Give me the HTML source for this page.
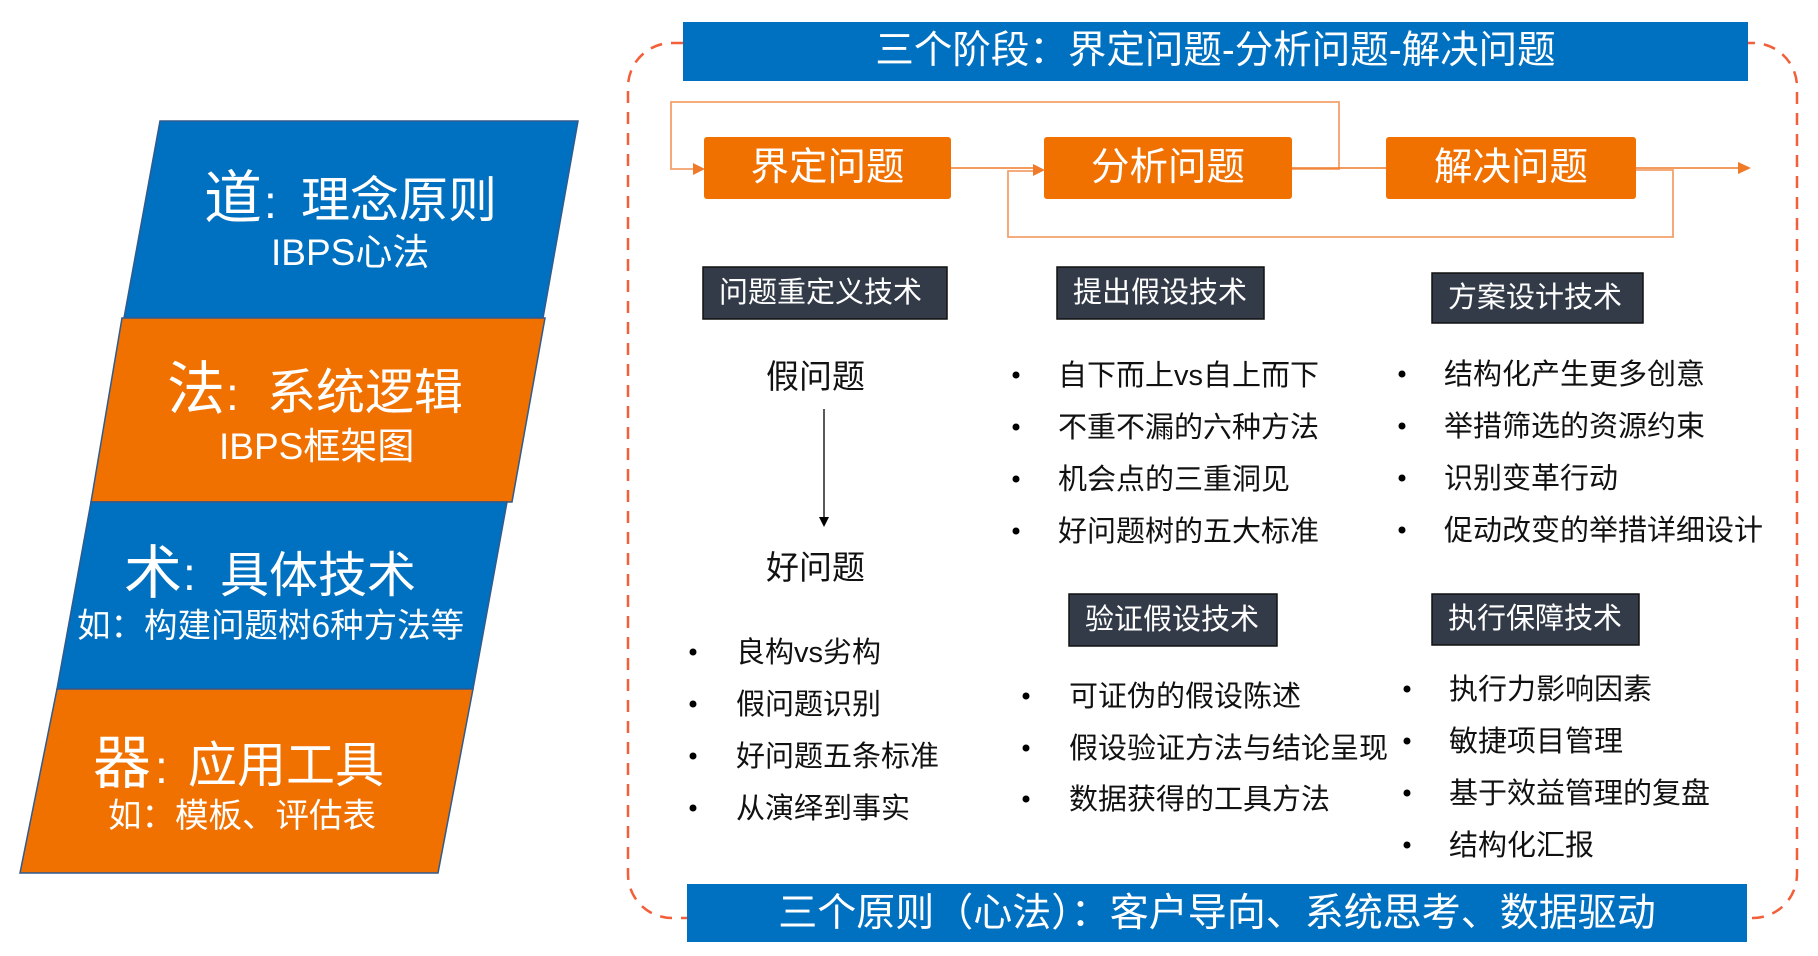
<!DOCTYPE html>
<html><head><meta charset="utf-8">
<style>
html,body{margin:0;padding:0;background:#fff;}
body{width:1818px;height:956px;position:relative;overflow:hidden;font-family:"Liberation Sans","Noto Sans CJK SC",sans-serif;}
.t{position:absolute;white-space:nowrap;line-height:1;}
.w{color:#fff;}
.k{color:#111;font-size:29px;}
.c{position:absolute;display:flex;align-items:center;justify-content:center;color:#fff;white-space:nowrap;line-height:1;}
.lab{position:absolute;display:flex;align-items:center;color:#fff;font-size:29px;line-height:1;white-space:nowrap;padding-left:16px;box-sizing:border-box;}
svg{position:absolute;left:0;top:0;}
</style></head><body>
<svg width="1818" height="956" viewBox="0 0 1818 956">
  <polygon points="160,121 578,121 543,318 124,318" fill="#0070c0" stroke="#2f5b8f" stroke-width="1.5"/>
  <polygon points="122,318 545,318 512,502 91,502" fill="#f07000" stroke="#2f5b8f" stroke-width="1.5"/>
  <polygon points="91,502 507,502 473,689 57,689" fill="#0070c0" stroke="#2f5b8f" stroke-width="1.5"/>
  <polygon points="57,689 473,689 438,873 20,873" fill="#f07000" stroke="#2f5b8f" stroke-width="1.5"/>

  <rect x="628" y="43" width="1169" height="875" rx="44" ry="44" fill="none" stroke="#f25f38" stroke-width="2.5" stroke-dasharray="12 9"/>

  <rect x="683" y="22" width="1065" height="59" fill="#0070c0"/>
  <rect x="687" y="884" width="1060" height="58" fill="#0070c0"/>

  <polyline points="1292,169 1339,169 1339,102 671,102 671,169 694,169" fill="none" stroke="#f4a06a" stroke-width="1.8"/>
  <polyline points="1636,170 1673,170 1673,237 1008,237 1008,171 1034,171" fill="none" stroke="#f4a06a" stroke-width="1.8"/>
  <line x1="951" y1="168" x2="1034" y2="168" stroke="#ee7a2a" stroke-width="1.6"/>
  <line x1="1292" y1="168" x2="1386" y2="168" stroke="#ee7a2a" stroke-width="1.6"/>
  <line x1="1636" y1="168" x2="1739" y2="168" stroke="#ee7a2a" stroke-width="1.6"/>
  <polygon points="693,163 705,169 693,175" fill="#ee7a2a"/>
  <polygon points="1033,164 1045,170 1033,176" fill="#ee7a2a"/>
  <polygon points="1738,162 1751,168 1738,174" fill="#ee7a2a"/>

  <rect x="704" y="137" width="247" height="62" rx="3" fill="#f07000"/>
  <rect x="1044" y="137" width="248" height="62" rx="3" fill="#f07000"/>
  <rect x="1386" y="137" width="250" height="62" rx="3" fill="#f07000"/>

  <rect x="703" y="267" width="244" height="52" fill="#333b48" stroke="#111" stroke-width="1.5"/>
  <rect x="1057" y="267" width="207" height="52" fill="#333b48" stroke="#111" stroke-width="1.5"/>
  <rect x="1432" y="273" width="211" height="50" fill="#333b48" stroke="#111" stroke-width="1.5"/>
  <rect x="1069" y="594" width="208" height="52" fill="#333b48" stroke="#111" stroke-width="1.5"/>
  <rect x="1432" y="594" width="207" height="51" fill="#333b48" stroke="#111" stroke-width="1.5"/>

  <line x1="824" y1="409" x2="824" y2="518" stroke="#000" stroke-width="1.3"/>
  <polygon points="819,517 829,517 824,527" fill="#000"/>

  <g fill="#000">
    <circle cx="693" cy="652" r="3.5"/><circle cx="693" cy="704" r="3.5"/><circle cx="693" cy="756" r="3.5"/><circle cx="693" cy="808" r="3.5"/>
    <circle cx="1016" cy="375" r="3.5"/><circle cx="1016" cy="427" r="3.5"/><circle cx="1016" cy="479" r="3.5"/><circle cx="1016" cy="531" r="3.5"/>
    <circle cx="1026" cy="696" r="3.5"/><circle cx="1026" cy="748" r="3.5"/><circle cx="1026" cy="799" r="3.5"/>
    <circle cx="1402" cy="374" r="3.5"/><circle cx="1402" cy="426" r="3.5"/><circle cx="1402" cy="478" r="3.5"/><circle cx="1402" cy="530" r="3.5"/>
    <circle cx="1407" cy="689" r="3.5"/><circle cx="1407" cy="741" r="3.5"/><circle cx="1407" cy="793" r="3.5"/><circle cx="1407" cy="845" r="3.5"/>
  </g>
</svg>

<div class="t w" style="left:204px;top:170px;font-size:58px;">道</div>
<div class="t w" style="left:264px;top:179px;font-size:46px;">:</div>
<div class="t w" style="left:301px;top:177px;font-size:49px;">理念原则</div>
<div class="t w" style="left:271px;top:234px;font-size:37px;">IBPS心法</div>

<div class="t w" style="left:167px;top:361px;font-size:58px;">法</div>
<div class="t w" style="left:226px;top:371px;font-size:46px;">:</div>
<div class="t w" style="left:267px;top:369px;font-size:49px;">系统逻辑</div>
<div class="t w" style="left:219px;top:428px;font-size:37px;">IBPS框架图</div>

<div class="t w" style="left:124px;top:545px;font-size:58px;">术</div>
<div class="t w" style="left:183px;top:551px;font-size:46px;">:</div>
<div class="t w" style="left:220px;top:552px;font-size:49px;">具体技术</div>
<div class="t w" style="left:77px;top:610px;font-size:33.5px;">如：构建问题树6种方法等</div>

<div class="t w" style="left:93px;top:735px;font-size:58px;">器</div>
<div class="t w" style="left:155px;top:744px;font-size:46px;">:</div>
<div class="t w" style="left:188px;top:742px;font-size:49px;">应用工具</div>
<div class="t w" style="left:108px;top:800px;font-size:33.5px;">如：模板、评估表</div>

<div class="c" style="left:683px;top:22px;width:1065px;height:59px;font-size:38.5px;">三个阶段：界定问题-分析问题-解决问题</div>
<div class="c" style="left:687px;top:884px;width:1060px;height:58px;font-size:39px;">三个原则（心法）：客户导向、系统思考、数据驱动</div>

<div class="c" style="left:704px;top:137px;width:247px;height:62px;font-size:38.5px;">界定问题</div>
<div class="c" style="left:1044px;top:137px;width:248px;height:62px;font-size:38.5px;">分析问题</div>
<div class="c" style="left:1386px;top:137px;width:250px;height:62px;font-size:38.5px;">解决问题</div>

<div class="lab" style="left:703px;top:267px;width:244px;height:52px;">问题重定义技术</div>
<div class="lab" style="left:1057px;top:267px;width:207px;height:52px;">提出假设技术</div>
<div class="lab" style="left:1432px;top:273px;width:211px;height:50px;">方案设计技术</div>
<div class="lab" style="left:1069px;top:594px;width:208px;height:52px;">验证假设技术</div>
<div class="lab" style="left:1432px;top:594px;width:207px;height:51px;">执行保障技术</div>

<div class="t" style="left:766px;top:360px;font-size:33px;color:#111;">假问题</div>
<div class="t" style="left:766px;top:551px;font-size:33px;color:#111;">好问题</div>
<div class="t k" style="left:736px;top:638.5px;">良构vs劣构</div>
<div class="t k" style="left:736px;top:690.5px;">假问题识别</div>
<div class="t k" style="left:736px;top:742.5px;">好问题五条标准</div>
<div class="t k" style="left:736px;top:794.5px;">从演绎到事实</div>

<div class="t k" style="left:1058px;top:361.5px;">自下而上vs自上而下</div>
<div class="t k" style="left:1058px;top:413.5px;">不重不漏的六种方法</div>
<div class="t k" style="left:1058px;top:465.5px;">机会点的三重洞见</div>
<div class="t k" style="left:1058px;top:517.5px;">好问题树的五大标准</div>
<div class="t k" style="left:1069px;top:682.5px;">可证伪的假设陈述</div>
<div class="t k" style="left:1069px;top:734.5px;">假设验证方法与结论呈现</div>
<div class="t k" style="left:1069px;top:785.5px;">数据获得的工具方法</div>

<div class="t k" style="left:1444px;top:360.5px;">结构化产生更多创意</div>
<div class="t k" style="left:1444px;top:412.5px;">举措筛选的资源约束</div>
<div class="t k" style="left:1444px;top:464.5px;">识别变革行动</div>
<div class="t k" style="left:1444px;top:516.5px;">促动改变的举措详细设计</div>
<div class="t k" style="left:1449px;top:675.5px;">执行力影响因素</div>
<div class="t k" style="left:1449px;top:727.5px;">敏捷项目管理</div>
<div class="t k" style="left:1449px;top:779.5px;">基于效益管理的复盘</div>
<div class="t k" style="left:1449px;top:831.5px;">结构化汇报</div>
</body></html>
